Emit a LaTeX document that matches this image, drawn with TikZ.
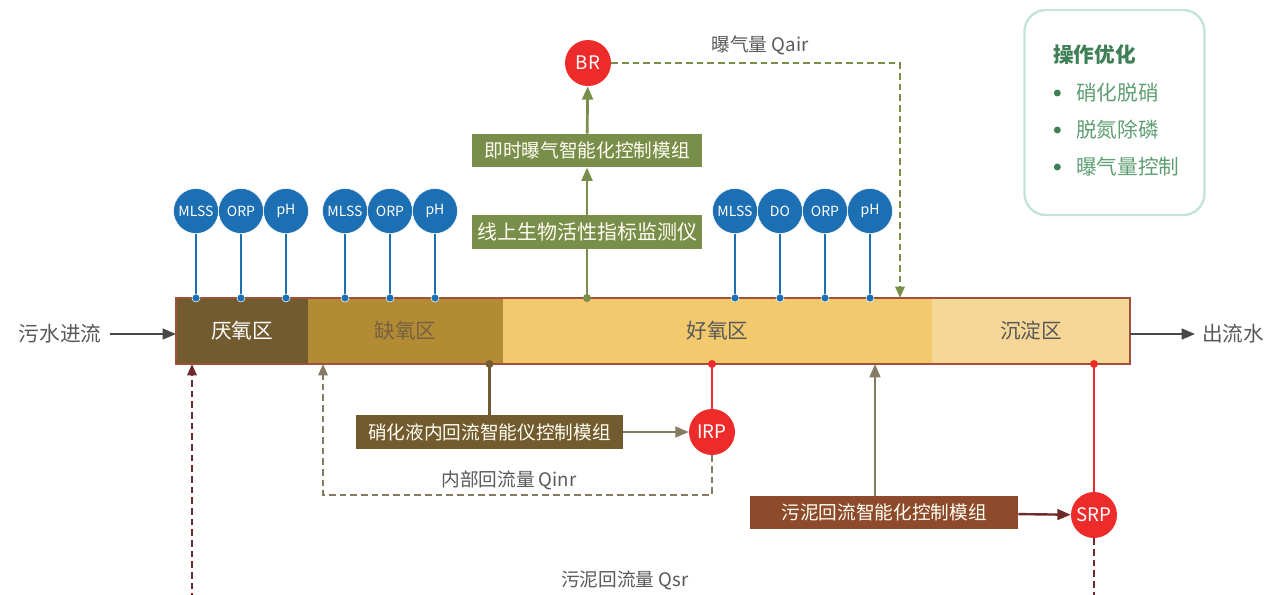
\documentclass[tikz,border=0pt]{standalone}
\usepackage{fontspec}
\setmainfont{Noto Sans CJK SC}
\usetikzlibrary{positioning}
\usetikzlibrary{arrows.meta}

\definecolor{anaer}{HTML}{735B30}
\definecolor{anox}{HTML}{B38B35}
\definecolor{aer}{HTML}{F2C96C}
\definecolor{settle}{HTML}{F7D797}
\definecolor{barline}{HTML}{A0513A}
\definecolor{sensor}{HTML}{1D6FB3}
\definecolor{pumpred}{HTML}{EE2B2B}
\definecolor{gbox}{HTML}{7A8E4B}
\definecolor{sludge}{HTML}{8E4B2C}
\definecolor{dun}{HTML}{857A63}
\definecolor{maroon}{HTML}{6E2A2A}
\definecolor{txt}{HTML}{595959}
\definecolor{legline}{HTML}{C4E4D6}
\definecolor{legtitle}{HTML}{3E7F55}
\definecolor{legitem}{HTML}{5E9E72}

\begin{document}
\begin{tikzpicture}[x=0.75pt,y=-0.75pt,>={Triangle[length=10pt,width=8pt]},
  zone/.style={minimum height=49.5pt,inner sep=0pt,outer sep=0pt,font=\fontsize{15.5}{18}\selectfont},
  sensor/.style={circle,fill=sensor,draw=white,line width=0.4pt,minimum size=33.75pt,inner sep=0pt,outer sep=0pt,text=white,font=\fontsize{10.5}{12}\selectfont},
  pump/.style={circle,fill=pumpred,minimum size=34.5pt,inner sep=0pt,text=white,font=\fontsize{14}{16}\selectfont},
  module/.style={inner sep=0pt,minimum height=25pt,text=white!95!yellow,font=\fontsize{14}{16}\selectfont},
  lbl/.style={text=txt,inner sep=1pt,font=\fontsize{14}{16}\selectfont},
  stem/.style={draw=sensor,line width=1.7pt},
  flow/.style={->,draw=black!72,line width=1.7pt},
  gline/.style={draw=gbox,line width=2pt},
  dline/.style={->,draw=dun,line width=1.8pt},
  flowdash/.style={dash pattern=on 5pt off 3pt,line width=1.6pt,>={Triangle[length=8.5pt,width=7pt]}}]

  \path[use as bounding box,clip] (0,0) rectangle (1265,594);

  % reactor zones
  \node[zone,fill=anaer,text=white,minimum width=99pt] (Anaer) at (242,331) {厌氧区};
  \node[zone,fill=anox,text=anaer!80!gray,minimum width=146.25pt,right=0pt of Anaer] (Anox) {缺氧区};
  \node[zone,fill=aer,text=txt,minimum width=321.75pt,right=0pt of Anox] (Aer) {好氧区};
  \node[zone,fill=settle,text=txt,minimum width=148.5pt,right=0pt of Aer] (Settle) {沉淀区};
  \draw[barline,line width=1.4pt] (Anaer.north west) rectangle (Settle.south east);

  % in / out
  \node[lbl,font=\fontsize{15.5}{18}\selectfont] (In) at (60,334) {污水进流};
  \node[lbl,font=\fontsize{15.5}{18}\selectfont] (Out) at (1233,334) {出流水};
  \draw[flow] ([xshift=5pt]In.east) -- (In -| Anaer.west);
  \draw[flow] (Out -| Settle.east) -- ([xshift=-4pt]Out.west);

  % sensors
  \node[sensor] (MLSSa) at (196,211) {MLSS};
  \node[sensor,right=0pt of MLSSa] (ORPa) {ORP};
  \node[sensor,right=0pt of ORPa] (pHa) {pH};
  \node[sensor] (MLSSb) at (345,211) {MLSS};
  \node[sensor,right=0pt of MLSSb] (ORPb) {ORP};
  \node[sensor,right=0pt of ORPb] (pHb) {pH};
  \node[sensor] (MLSSc) at (735,211) {MLSS};
  \node[sensor,right=0pt of MLSSc] (DOc) {DO};
  \node[sensor,right=0pt of DOc] (ORPc) {ORP};
  \node[sensor,right=0pt of ORPc] (pHc) {pH};
  \foreach \s in {MLSSa,ORPa,pHa,MLSSb,ORPb,pHb,MLSSc,DOc,ORPc,pHc} {
    \draw[stem] (\s.south) -- (\s |- Aer.north);
    \fill[sensor] (\s |- Aer.north) circle (3pt);
  }

  % aeration control
  \node[module,fill=gbox,minimum width=173pt,font=\fontsize{15}{17}\selectfont] (Monitor) at (587,232) {线上生物活性指标监测仪};
  \node[module,fill=gbox,minimum width=173pt] (Aerctl) at (587,150.5) {即时曝气智能化控制模组};
  \node[pump] (BR) at (588,63) {BR};
  \coordinate (Qair) at (900,63);
  \draw[gline] (Aer.north -| Monitor) -- (Monitor);
  \fill[gbox] (Aer.north -| Monitor) circle (3pt);
  \draw[gline,->] (Monitor) -- (Aerctl);
  \draw[gline,->] (Aerctl) -- (BR);
  \draw[flowdash,draw=gbox,->] (BR) -- (Qair) -- (Qair |- Aer.north);
  \node[lbl] (QairLbl) at (760,45) {曝气量 Qair};

  % internal recycle
  \node[module,fill=anaer,minimum width=200pt] (Nitctl) at (489.5,432) {硝化液内回流智能仪控制模组};
  \node[pump] (IRP) at (712,432) {IRP};
  \coordinate (Qinr) at (323,495);
  \draw[draw=anaer,line width=2pt] (Anox.south -| Nitctl) -- (Nitctl);
  \fill[anaer] (Anox.south -| Nitctl) circle (3pt);
  \draw[dline] (Nitctl) -- (IRP);
  \draw[draw=pumpred,line width=2pt] (Aer.south -| IRP) -- (IRP);
  \fill[pumpred] (Aer.south -| IRP) circle (3pt);
  \draw[flowdash,draw=dun,->] (IRP) -- (IRP |- Qinr) -- (Qinr) -- (Qinr |- Anox.south);
  \node[lbl] (QinrLbl) at (509,480) {内部回流量 Qinr};

  % sludge recycle
  \node[module,fill=sludge,minimum width=201pt] (Sludctl) at (884,512.5) {污泥回流智能化控制模组};
  \node[pump] (SRP) at (1094,515) {SRP};
  \coordinate (Qsr) at (1094,600);
  \coordinate (QsrEnd) at (192,600);
  \draw[dline] ([xshift=-6.75pt]Sludctl.north) -- ([xshift=-6.75pt]Sludctl.north |- Aer.south);
  \draw[->,draw=maroon,line width=1.8pt] (Sludctl) -- (SRP);
  \draw[draw=pumpred,line width=2pt] (Settle.south -| SRP) -- (SRP);
  \fill[pumpred] (Settle.south -| SRP) circle (3pt);
  \draw[flowdash,draw=maroon] (SRP) -- (Qsr);
  \draw[flowdash,draw=maroon,->] (QsrEnd) -- (QsrEnd |- Anaer.south);
  \node[lbl] (QsrLbl) at (625,580) {污泥回流量 Qsr};

  % legend
  \node[draw=legline,line width=1.8pt,rounded corners=16pt,minimum width=135pt,minimum height=153.75pt] (Legend) at (1114.5,112.5) {};
  \node[anchor=west,inner sep=0pt,text=legtitle,font=\bfseries\fontsize{15.5}{18}\selectfont] (Title) at (1053,55) {操作优化};
  \node[anchor=west,inner sep=0pt,text=legitem,font=\fontsize{15.5}{18}\selectfont] (ItemA) at (1076,93) {硝化脱硝};
  \node[anchor=west,inner sep=0pt,text=legitem,font=\fontsize{15.5}{18}\selectfont] (ItemB) at (1076,130) {脱氮除磷};
  \node[anchor=west,inner sep=0pt,text=legitem,font=\fontsize{15.5}{18}\selectfont] (ItemC) at (1076,167) {曝气量控制};
  \foreach \i in {ItemA,ItemB,ItemC}
    \fill[legtitle] ([xshift=-14pt]\i.west) circle (2.6pt);
\end{tikzpicture}
\end{document}
